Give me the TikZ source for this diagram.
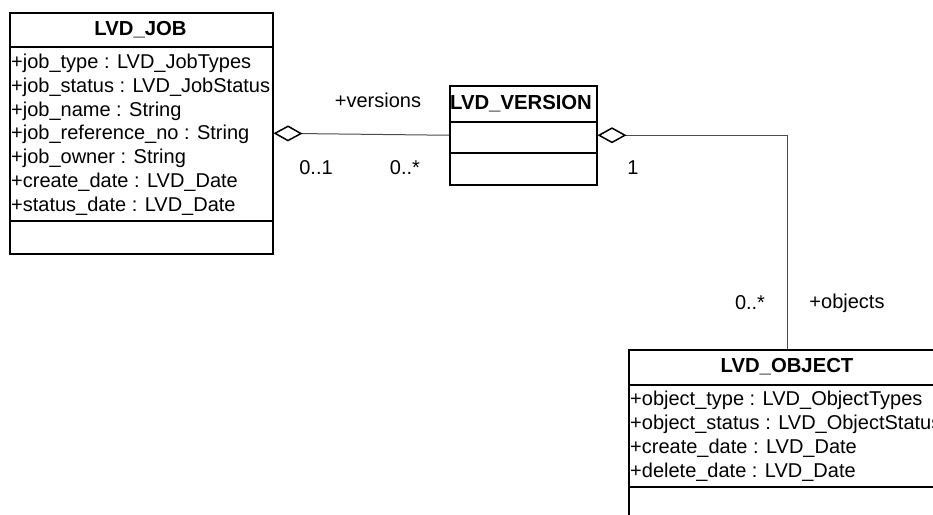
\documentclass[tikz,border=0pt]{standalone}
\usepackage{fontspec}
\setmainfont{Liberation Sans}
\usetikzlibrary{arrows.meta}
\begin{document}
\begin{tikzpicture}[x=1pt,y=-1pt,
  classbox/.style={draw, line width=1.5pt, rectangle, inner sep=0pt, anchor=north west},
  sep/.style={line width=1.5pt},
  hdr/.style={font=\bfseries\fontsize{20.3}{24}\selectfont, inner sep=0pt},
  attr/.style={font=\fontsize{20}{24}\selectfont, inner sep=0pt, anchor=west, text height=14pt, text depth=4pt},
  lbl/.style={font=\fontsize{20}{24}\selectfont, inner sep=0pt},
  assoc/.style={draw=black!70, line width=1pt},
  agg/.style={assoc, {Diamond[open, color=black, length=29pt, width=16pt, line width=1.5pt]}-}
]
\useasboundingbox (0,0) rectangle (933,514);
\clip (0,0) rectangle (933,514);

% LVD_JOB
\node[classbox, minimum width=263pt, minimum height=241pt] (job) at (9,12) {};
\draw[sep] (job.west |- 0,47) -- (job.east |- 0,47);
\draw[sep] (job.west |- 0,221) -- (job.east |- 0,221);
\node[hdr] (jobh) at (140.5,29.5) {LVD\_JOB};
\node[attr] (ja1) at (11,63) {+job\_type : LVD\_JobTypes};
\node[attr] (ja2) at (11,87) {+job\_status : LVD\_JobStatus};
\node[attr] (ja3) at (11,111) {+job\_name : String};
\node[attr] (ja4) at (11,134) {+job\_reference\_no : String};
\node[attr] (ja5) at (11,158) {+job\_owner : String};
\node[attr] (ja6) at (11,182) {+create\_date : LVD\_Date};
\node[attr] (ja7) at (11,206) {+status\_date : LVD\_Date};

% LVD_VERSION
\node[classbox, minimum width=147pt, minimum height=99pt] (ver) at (449,85) {};
\draw[sep] (ver.west |- 0,122) -- (ver.east |- 0,122);
\draw[sep] (ver.west |- 0,153) -- (ver.east |- 0,153);
\node[hdr] (verh) at (521,103.5) {LVD\_VERSION};

% LVD_OBJECT
\node[classbox, minimum width=318pt, minimum height=172pt] (obj) at (628,349) {};
\draw[sep] (obj.west |- 0,385) -- (obj.east |- 0,385);
\draw[sep] (obj.west |- 0,487) -- (obj.east |- 0,487);
\node[hdr] (objh) at (787,367) {LVD\_OBJECT};
\node[attr] (oa1) at (630,400) {+object\_type : LVD\_ObjectTypes};
\node[attr] (oa2) at (630,424) {+object\_status : LVD\_ObjectStatus};
\node[attr] (oa3) at (630,448) {+create\_date : LVD\_Date};
\node[attr] (oa4) at (630,472) {+delete\_date : LVD\_Date};

% connectors
\draw[agg] (job.east) -- (ver.west);
\draw[agg] (ver.east) -| (obj.north);

% labels
\node[lbl] (l1) at (378,100) {+versions};
\node[lbl] (l2) at (316,168) {0..1};
\node[lbl] (l3) at (405,168) {0..*};
\node[lbl] (l4) at (633,168) {1};
\node[lbl] (l5) at (750,303) {0..*};
\node[lbl] (l6) at (847,303) {+objects};
\end{tikzpicture}
\end{document}
